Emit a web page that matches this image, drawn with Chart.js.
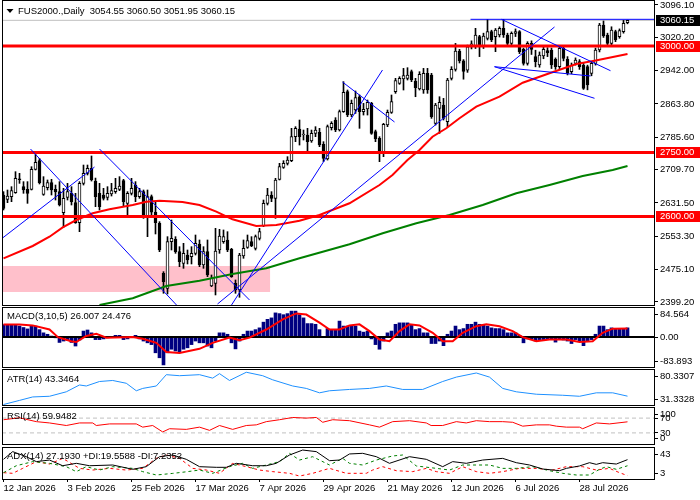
<!DOCTYPE html>
<html>
<head>
<meta charset="utf-8">
<script src="https://cdn.jsdelivr.net/npm/chart.js@4.4.1/dist/chart.umd.min.js"></script>
<style>
html, body { margin: 0; padding: 0; background: #fff; }
#wrap { position: relative; width: 700px; height: 500px; overflow: hidden; background: #fff; }
#wrap canvas { position: absolute; left: 0; }
</style>
</head>
<body>
<div id="wrap">
  <canvas id="cMain" width="700" height="306" style="top:0px"></canvas>
  <canvas id="cMacd" width="700" height="61" style="top:307px"></canvas>
  <canvas id="cAtr" width="700" height="37" style="top:369px"></canvas>
  <canvas id="cRsi" width="700" height="38" style="top:407px"></canvas>
  <canvas id="cAdx" width="700" height="53" style="top:447px"></canvas>
</div>
<script>
// ---- texts ----
const symbolTitle = 'FUS2000.,Daily  3054.55 3060.50 3051.95 3060.15';
const macdTitle = 'MACD(3,10,5) 26.007 24.476';
const atrTitle = 'ATR(14) 43.3464';
const rsiTitle = 'RSI(14) 59.9482';
const adxTitle = 'ADX(14) 27.1930 +DI:19.5588 -DI:7.2352';

// x axis: one tick every 16 daily bars
const dateLabels = ['12 Jan 2026', '3 Feb 2026', '25 Feb 2026', '17 Mar 2026', '7 Apr 2026',
  '29 Apr 2026', '21 May 2026', '12 Jun 2026', '6 Jul 2026', '28 Jul 2026'];
const dateTickBars = [0, 16, 32, 48, 64, 80, 96, 112, 128, 144];

// ---- daily candles ----
const opens = [
  2650.3, 2640.1, 2646.3, 2655.7, 2687.0, 2669.8, 2663.6, 2663.6, 2710.5, 2730.8,
  2651.8, 2667.5, 2679.2, 2663.6, 2658.1, 2608.8, 2644.8, 2654.2, 2632.3, 2585.3,
  2677.6, 2701.1, 2712.8, 2683.0, 2654.2, 2650.3, 2644.8, 2652.6, 2658.1, 2663.6,
  2683.9, 2630.7, 2654.2, 2673.7, 2646.3, 2658.1, 2599.4, 2646.3, 2610.0, 2583.8,
  2466.5, 2431.3, 2540.8, 2546.2, 2517.3, 2489.9, 2509.5, 2505.6, 2513.4, 2535.3,
  2486.0, 2517.3, 2436.8, 2443.0, 2521.2, 2540.8, 2544.7, 2522.8, 2443.0, 2427.4,
  2507.2, 2527.5, 2540.8, 2525.1, 2548.6, 2577.5, 2630.7, 2650.3, 2642.4, 2687.0,
  2715.2, 2724.6, 2730.8, 2787.1, 2805.1, 2791.0, 2791.0, 2777.0, 2794.9, 2797.3,
  2769.1, 2734.7, 2808.2, 2826.2, 2802.7, 2845.8, 2892.7, 2837.9, 2849.7, 2880.9,
  2845.8, 2852.0, 2865.3, 2798.8, 2783.2, 2750.3, 2814.5, 2844.2, 2892.7, 2912.2,
  2922.4, 2924.0, 2939.6, 2917.7, 2899.0, 2896.6, 2935.7, 2931.8, 2818.4, 2853.6,
  2861.4, 2822.3, 2924.1, 2945.0, 2988.0, 2965.0, 2943.0, 2998.0, 2998.4, 3021.8,
  2998.4, 3017.9, 3033.6, 3021.8, 3025.7, 3041.4, 3025.7, 3006.2, 3029.6, 3033.6,
  2992.1, 2959.3, 3006.2, 2974.9, 2955.3, 2976.5, 2989.0, 2990.5, 2968.6, 2951.4,
  2994.4, 2968.6, 2939.7, 2959.3, 2963.2, 2955.3, 2951.4, 2935.8, 2959.3, 2990.5,
  3049.2, 3025.7, 3006.2, 3033.6, 3021.8, 3033.6, 3054.55
];
const highs = [
  2658.1, 2662.0, 2669.8, 2705.0, 2701.1, 2681.6, 2681.6, 2716.7, 2749.6, 2736.3,
  2693.3, 2685.5, 2687.0, 2673.7, 2681.6, 2665.9, 2677.6, 2669.8, 2654.2, 2681.6,
  2720.6, 2720.6, 2741.8, 2690.0, 2677.6, 2665.9, 2669.8, 2677.6, 2689.4, 2693.3,
  2687.0, 2658.1, 2689.4, 2681.6, 2665.9, 2662.0, 2662.0, 2650.3, 2634.6, 2587.7,
  2470.4, 2552.5, 2591.6, 2552.5, 2529.0, 2536.9, 2521.2, 2529.0, 2556.4, 2544.7,
  2529.0, 2544.7, 2462.6, 2572.0, 2569.7, 2568.2, 2564.2, 2525.1, 2450.9, 2513.4,
  2544.7, 2556.4, 2552.5, 2556.4, 2572.0, 2638.5, 2665.9, 2658.1, 2689.4, 2724.6,
  2730.8, 2740.2, 2806.7, 2810.6, 2826.2, 2802.7, 2806.7, 2802.7, 2810.6, 2806.7,
  2775.4, 2814.5, 2822.3, 2831.7, 2849.7, 2916.2, 2896.6, 2873.1, 2894.3, 2884.9,
  2865.3, 2873.1, 2867.7, 2802.7, 2787.1, 2818.4, 2849.7, 2884.9, 2924.0, 2927.9,
  2947.4, 2949.0, 2943.5, 2924.0, 2939.6, 2947.4, 2947.4, 2935.7, 2865.3, 2880.9,
  2877.0, 2924.0, 2951.4, 3006.0, 2992.0, 2968.0, 3002.0, 3012.0, 3041.4, 3025.0,
  3030.0, 3062.5, 3037.0, 3041.0, 3045.0, 3062.5, 3030.0, 3033.0, 3040.0, 3036.0,
  2995.0, 3010.0, 3012.0, 2990.0, 2986.0, 2998.0, 2996.0, 2995.0, 2972.0, 2998.0,
  2998.0, 2975.0, 2960.0, 2972.0, 2968.0, 2960.0, 2955.0, 2963.0, 2995.0, 3053.0,
  3058.6, 3030.0, 3045.0, 3037.0, 3040.0, 3060.0, 3060.50
];
const lows = [
  2615.1, 2632.3, 2634.6, 2654.2, 2677.6, 2654.2, 2630.7, 2662.0, 2708.9, 2676.1,
  2649.5, 2662.0, 2650.3, 2638.5, 2624.5, 2574.4, 2638.5, 2626.8, 2583.8, 2564.2,
  2673.7, 2697.2, 2683.0, 2622.9, 2615.1, 2638.5, 2638.5, 2647.9, 2654.2, 2660.4,
  2622.9, 2603.3, 2650.3, 2634.6, 2642.4, 2595.5, 2552.5, 2600.0, 2558.8, 2517.3,
  2419.6, 2418.0, 2521.2, 2513.4, 2482.1, 2478.2, 2488.4, 2488.4, 2509.5, 2482.1,
  2478.2, 2458.7, 2435.2, 2415.7, 2513.4, 2536.9, 2517.3, 2457.1, 2419.6, 2410.2,
  2501.7, 2525.1, 2529.0, 2521.2, 2544.7, 2576.0, 2626.8, 2634.6, 2595.5, 2685.5,
  2712.8, 2720.6, 2728.4, 2775.4, 2767.5, 2779.3, 2748.0, 2773.8, 2787.1, 2763.6,
  2728.4, 2732.3, 2802.7, 2798.8, 2800.4, 2844.2, 2834.0, 2834.0, 2841.8, 2806.7,
  2837.9, 2837.9, 2792.6, 2775.4, 2728.4, 2740.2, 2810.6, 2841.8, 2888.8, 2909.9,
  2896.6, 2920.1, 2916.2, 2880.9, 2896.6, 2888.8, 2888.8, 2830.1, 2814.5, 2794.9,
  2826.2, 2810.6, 2920.1, 2941.0, 2960.0, 2922.0, 2938.0, 2993.0, 2994.0, 2975.0,
  2994.0, 3014.0, 3010.0, 2986.6, 3021.0, 3020.0, 3000.0, 3000.0, 3022.0, 2982.0,
  2955.0, 2955.0, 2980.0, 2951.0, 2950.0, 2970.0, 2975.0, 2947.0, 2945.0, 2947.0,
  2965.0, 2932.0, 2935.0, 2955.0, 2945.0, 2898.0, 2897.0, 2930.0, 2955.0, 2986.0,
  3020.0, 3002.0, 3002.0, 3010.0, 3018.0, 3030.0, 3051.95
];
const closes = [
  2619.0, 2647.9, 2660.4, 2689.4, 2686.0, 2662.0, 2654.2, 2710.5, 2726.9, 2679.2,
  2671.4, 2679.2, 2662.0, 2657.3, 2626.8, 2642.4, 2658.1, 2634.6, 2585.3, 2677.6,
  2701.1, 2712.8, 2685.5, 2646.3, 2622.9, 2642.4, 2654.2, 2660.4, 2665.9, 2671.4,
  2634.6, 2654.2, 2665.9, 2646.3, 2658.1, 2599.4, 2646.3, 2610.0, 2585.3, 2521.2,
  2446.9, 2540.8, 2548.6, 2517.3, 2493.9, 2513.4, 2497.8, 2513.4, 2536.9, 2486.0,
  2517.3, 2462.6, 2454.8, 2518.9, 2554.1, 2552.5, 2521.2, 2458.7, 2427.4, 2509.5,
  2525.1, 2543.1, 2530.6, 2552.5, 2564.2, 2630.7, 2650.3, 2642.4, 2685.5, 2716.7,
  2724.6, 2732.4, 2787.1, 2806.7, 2787.1, 2792.6, 2775.4, 2794.9, 2802.7, 2767.5,
  2736.3, 2810.6, 2818.4, 2802.7, 2845.8, 2891.1, 2837.9, 2865.3, 2878.6, 2845.8,
  2851.2, 2867.7, 2794.9, 2781.6, 2751.9, 2816.0, 2844.2, 2869.2, 2918.5, 2924.0,
  2930.2, 2931.8, 2920.1, 2902.1, 2933.4, 2935.7, 2896.6, 2834.0, 2861.4, 2867.7,
  2830.1, 2920.1, 2945.2, 2988.0, 2965.0, 2940.0, 2998.0, 3005.0, 3025.7, 2998.4,
  3023.4, 3033.6, 3014.0, 3037.5, 3041.4, 3025.7, 3006.2, 3029.6, 3033.6, 2986.6,
  2959.3, 3006.2, 2992.1, 2963.2, 2978.8, 2992.1, 2984.3, 2955.3, 2951.4, 2994.4,
  2971.0, 2935.8, 2955.3, 2967.1, 2951.4, 2900.6, 2908.4, 2959.3, 2990.5, 3049.2,
  3023.4, 3006.2, 3037.5, 3014.0, 3035.9, 3053.1, 3060.15
];

// moving averages, [bar, price] points
const maFast = [[0, 2501.7], [7.3, 2530.6], [11.5, 2552.4], [14.8, 2574.4], [18.2, 2591.6], [22.3, 2607.3],
  [26.5, 2616.7], [32.3, 2626.8], [35.7, 2634.5], [39, 2636.9], [44.75, 2633.8], [49, 2626.8], [53.2, 2611.1],
  [57.25, 2593.2], [63.2, 2577.5], [68.2, 2579.9], [74, 2589.9], [79, 2603.3], [86.5, 2630.8], [94, 2673.7],
  [97.25, 2697.2], [101, 2732.4], [104, 2755.9], [107.25, 2787.1], [110.7, 2806.8], [114, 2830.3],
  [118.2, 2857.5], [124, 2880.9], [129.8, 2913.8], [136.5, 2935.8], [143.2, 2957.7], [147.75, 2965.4], [156, 2981.0]];
const maSlow = [[24, 2392.1], [32.3, 2407.9], [40.7, 2436.7], [49, 2449.2], [57.25, 2464.9], [65.7, 2478.3],
  [74, 2501.7], [86.5, 2534.6], [94.8, 2560.4], [103.2, 2583.8], [111.5, 2603.3], [119.8, 2626.8],
  [128.2, 2654.2], [136.5, 2673.7], [144.8, 2694.8], [152.3, 2708.9], [156, 2718.3]];

// drawn objects
const levels = [3000, 2750, 2600];
const bidPrice = 3060.15;
const zoneBars = [-1, 66.7];
const zonePrices = [2422.7, 2483.7];
const trendLines = [ // [bar1, price1, bar2, price2]
  [6.75, 2758.2, 43.25, 2392.1],
  [24, 2758.2, 61.5, 2403.9],
  [57, 2392.1, 94.75, 2943.6],
  [53.5, 2394.5, 137.75, 3044.5],
  [-0.25, 2549.3, 22.75, 2715.9],
  [84.75, 2915.4, 97.75, 2821.6],
  [124.5, 3062.5, 151.75, 2941.9],
  [122.75, 2951.3, 147.75, 2877.2],
  [122.75, 2951.3, 146.75, 2929.5],
  [116.75, 3062.5, 164, 3062.5]
];
const priceTicks = [3096.10, 3020.20, 2942.00, 2863.80, 2785.60, 2709.70, 2631.50, 2553.30, 2475.10, 2399.20];
const priceRange = [2392.15, 3107.83];

// ---- MACD ----
const macdHist = [
  35, 35, 34, 34, 31, 27, 23, 33, 31, 21,
  12, 8, 3, -2, -15, -11, -9, -15, -25, -8,
  17, 20, 12, -7, -7, -5, -2, -1, 5, 5,
  -7, -5, 1, 5, -5, -11, -16, -21, -44, -58,
  -78, -44, -34, -39, -44, -34, -30, -21, -11, -16,
  -16, -25, -30, -11, 12, 12, 8, -16, -33, -11,
  8, 17, 17, 21, 26, 42, 50, 54, 68, 66,
  63, 66, 73, 73, 63, 54, 38, 38, 36, 21,
  2, 24, 21, 21, 45, 31, 31, 31, 31, 17,
  14, 17, -5, -21, -34, -11, 12, 17, 36, 40,
  40, 40, 33, 21, 24, 12, 12, -18, -18, -11,
  -24, 8, 17, 31, 21, 24, 36, 36, 42, 36,
  36, 31, 26, 24, 24, 21, 12, 12, 12, 5,
  -16, -5, -5, -11, -7, -7, -7, -7, -14, -5,
  -8, -11, -18, -7, -11, -24, -11, -7, 8, 31,
  31, 21, 26, 24, 24, 24, 26.007
];
const macdSignal = [[0, 35.6], [4, 35.6], [7.3, 32.9], [11.5, 21.4], [13.6, 0], [16.9, -11.5], [18.2, -13.8],
  [20.7, 3.1], [23.2, 9.2], [25.7, -1.5], [32.3, 0], [34.8, -4.6], [38.2, -16], [40.7, -42], [44, -44.3],
  [49, -32.9], [52.3, -16], [56.5, -1.5], [59, -8.4], [61.5, -1.5], [65.7, 21.4], [69.8, 49.7], [73.2, 66.5],
  [75.7, 63.4], [79, 40.5], [81.5, 21.4], [84, 21.4], [86.5, 32.9], [89, 35.9], [91.5, 16.8], [94, -6.9],
  [96.5, -11.5], [99, 16.8], [101.5, 35.9], [104, 32.9], [107.3, 12.2], [109.8, -11.5], [112.3, -11.5],
  [114.8, 12.2], [118.2, 30.6], [120.7, 35.9], [124, 30.6], [127.3, 16.8], [129.8, 0], [133.2, -11.5],
  [136.5, -6.9], [140.7, -6.9], [144, -13.8], [147.3, -11.5], [149.8, 12.2], [152.3, 23.7], [156, 24.476]];
const macdRange = [-83.893, 84.564];
const macdTickText = ['84.564', '0.00', '-83.893'];

// ---- ATR ----
const atrLine = [[0, 32.0], [4, 37.6], [7.3, 42.3], [11.5, 43.2], [15.7, 49.3], [19, 58.6], [20.7, 57.2],
  [24, 63.3], [27.3, 64.7], [30.7, 60.9], [33.2, 50.7], [34.8, 53.9], [38.2, 57.2], [40.7, 72.6], [44, 71.2],
  [49, 72.6], [52.3, 67.9], [54, 74.0], [56.5, 64.7], [60.7, 75.9], [64.8, 71.2], [67.3, 65.6], [72.3, 57.2],
  [75.7, 53.9], [79, 47.9], [81.5, 50.7], [86.5, 52.5], [91.5, 53.9], [95.7, 57.2], [99.8, 52.5],
  [104.8, 52.5], [109.8, 63.3], [113.2, 69.3], [118.2, 74.9], [121.5, 69.3], [124.8, 53.9], [128.2, 49.3],
  [133.2, 46.0], [139.8, 44.6], [144, 43.2], [148.2, 47.9], [152.3, 47.9], [156, 43.35]];
const atrRange = [31.3328, 80.3307];
const atrTickText = ['80.3307', '31.3328'];

// ---- RSI ----
const rsiLine = [[0, 65.6], [4, 70.8], [8.2, 60.4], [11.5, 56.9], [15.7, 50.0], [19, 56.9], [22.3, 56.9],
  [23.2, 50.0], [26.5, 54.3], [33.2, 54.3], [34.8, 45.6], [37.3, 50.0], [39.8, 32.6], [41.5, 41.3],
  [45.7, 39.5], [49, 45.6], [51.5, 36.9], [54, 50.0], [57.3, 39.5], [60.7, 50.0], [63.2, 51.7], [65.7, 60.4],
  [69, 65.6], [72.3, 71.7], [75.7, 70.0], [78.2, 71.7], [79.8, 58.7], [82.3, 65.6], [86.5, 63.0],
  [91.5, 51.7], [94, 45.6], [97.3, 60.4], [101.5, 63.0], [105.7, 56.9], [106.9, 50.0], [109.8, 50.0],
  [113.2, 60.4], [115.7, 56.9], [118.2, 63.0], [121.5, 60.4], [124.8, 60.4], [127.3, 58.7], [129.8, 48.2],
  [133.2, 51.7], [136.5, 51.7], [138.2, 48.2], [140.7, 45.6], [144, 45.6], [144.8, 41.3], [148.2, 56.9],
  [151.5, 54.3], [156, 59.95]];
const rsiLevels = [70, 30];
const rsiTickText = ['100', '70', '30', '0'];

// ---- ADX ----
const adxLine = [[0, 27.6], [2.3, 37.2], [5.7, 30.9], [8.2, 24.7], [11.5, 26.7], [14.8, 19.6], [18.2, 22.6],
  [21.5, 19.6], [27.3, 20.5], [32.3, 15.1], [35.7, 18.4], [39, 30.9], [42.3, 33.0], [45.7, 27.6], [49, 18.4],
  [53.2, 17.6], [55.7, 17.6], [58.2, 22.6], [62.3, 19.6], [65.7, 19.6], [68.2, 22.6], [71.5, 33.0],
  [74.8, 39.2], [78.2, 37.2], [81.5, 25.9], [84, 26.7], [86.5, 34.3], [89.8, 35.1], [93.2, 30.9],
  [96.5, 22.6], [101.5, 30.9], [105.7, 27.6], [109.8, 18.4], [112.3, 24.7], [115.7, 22.6], [119.8, 26.7],
  [124.8, 28.8], [128.2, 23.4], [131.5, 20.5], [134.8, 15.5], [139, 13.4], [140.7, 16.3], [144, 19.3],
  [146.5, 23.4], [148.2, 21.3], [149.8, 23.4], [153.2, 21.7], [156, 27.19]];
const plusDI = [[0, 10.9], [3.2, 19.6], [7.3, 24.7], [11.5, 22.6], [15.7, 18.4], [18.2, 12.2], [20.7, 18.4],
  [24, 14.2], [27.3, 18.4], [32.3, 16.3], [34.8, 12.2], [38.2, 8.0], [42.3, 10.0], [45.7, 12.0], [49, 14.2],
  [52.3, 10.1], [56.5, 18.4], [59.8, 22.6], [62.3, 16.3], [65.7, 20.5], [69, 24.7], [71.5, 35.1], [74, 26.7],
  [77.3, 30.9], [81.5, 20.5], [84.8, 28.8], [86.5, 22.6], [89.8, 20.5], [93.2, 26.7], [97.3, 31.8],
  [99.8, 33.0], [103.2, 19.3], [108.2, 16.3], [111.5, 14.2], [114.8, 20.5], [118.2, 20.5], [121.5, 20.5],
  [124.8, 16.3], [128.2, 16.3], [132.3, 18.4], [136.5, 13.4], [139.8, 10.1], [143.2, 8.0], [146.5, 8.0],
  [149, 15.1], [150.7, 18.4], [153.2, 15.1], [156, 19.56]];
const minusDI = [[0, 10.9], [2.3, 10.1], [4.8, 16.3], [8.2, 24.7], [11.5, 21.7], [14.8, 28.8], [19, 16.3],
  [22.3, 14.2], [26.5, 16.3], [30.7, 14.2], [34.8, 16.3], [38.2, 28.8], [40.7, 33.0], [44, 28.8], [47.3, 16.3],
  [50.7, 14.2], [54, 10.1], [57.3, 22.6], [60.7, 18.4], [64, 14.2], [67.3, 12.2], [71.5, 10.1], [74, 6.7],
  [77.3, 10.1], [81.5, 16.3], [85.7, 10.1], [90.7, 10.1], [92.3, 14.2], [94.8, 18.4], [98.2, 13.4],
  [102.3, 12.2], [105.7, 16.3], [108.2, 12.2], [111.5, 10.1], [114.8, 18.4], [118.2, 12.2], [121.5, 10.1],
  [124.8, 12.2], [129, 16.3], [133.2, 16.3], [137.3, 14.2], [140.7, 18.4], [144.8, 18.4], [148.2, 14.2],
  [151.5, 16.3], [154, 10.9], [156, 7.24]];
const adxRange = [3, 43];
const adxTickText = ['43', '3'];

// ---- chart setup ----
const FONT = "'Liberation Sans', Arial, sans-serif";
const FONT_SIZE = 9.5;
Chart.defaults.font.family = FONT;
Chart.defaults.font.size = FONT_SIZE;
Chart.defaults.color = '#000';
Chart.defaults.animation = false;

const X_MIN = -0.375, X_MAX = 162.625;   // 4px per bar, empty shift at the right
const AXIS_W = 46;

const toXY = pts => pts.map(p => ({ x: p[0], y: p[1] }));
const flat = v => [{ x: X_MIN, y: v }, { x: X_MAX, y: v }];

function lineDs(data, color, width, extra) {
    return Object.assign({
        type: 'line', data, borderColor: color, borderWidth: width,
        pointRadius: 0, tension: 0, fill: false, clip: 0
    }, extra || {});
}

function xScale(show) {
    return {
        type: 'linear', min: X_MIN, max: X_MAX, offset: false, display: show,
        afterBuildTicks: s => { s.ticks = dateTickBars.map(v => ({ value: v })); },
        afterFit: s => { s.height = show ? 21 : 0; s.paddingLeft = 0; s.paddingRight = 0; },
        grid: { offset: false, drawOnChartArea: false, drawTicks: true, tickLength: 3, color: '#000' },
        border: { display: false },
        ticks: {
            autoSkip: false, maxRotation: 0, minRotation: 0, align: 'start', padding: 1, color: '#000',
            callback: (v, i) => dateLabels[i]
        }
    };
}

function yScale(min, max, values, texts) {
    return {
        type: 'linear', position: 'right', min, max,
        afterBuildTicks: s => { s.ticks = values.map(v => ({ value: v })); },
        afterFit: s => { s.width = AXIS_W; s.paddingTop = 0; s.paddingBottom = 0; },
        grid: { drawOnChartArea: false, drawTicks: true, tickLength: 4, color: '#000' },
        border: { display: false },
        ticks: { autoSkip: false, padding: 2, color: '#000', callback: (v, i) => texts[i] }
    };
}

// window max / min labels sit just inside the panel edges, like the terminal draws them
function edgeTicks(range, h, mids) {
    const step = (range[1] - range[0]) / h;
    return [range[1] - step * 7.5, ...mids, range[0] + step * 5.5];
}

// black frame round every panel, plus its caption
Chart.register({
    id: 'frame',
    afterDraw(chart, args, opts) {
        const { ctx, chartArea: a } = chart;
        ctx.save();
        ctx.strokeStyle = '#000';
        ctx.lineWidth = 1;
        ctx.strokeRect(a.left + 0.5, a.top + 0.5, a.right - a.left, a.bottom - a.top);
        if (opts.title) {
            ctx.fillStyle = '#000';
            ctx.font = FONT_SIZE + 'px ' + FONT;
            ctx.textBaseline = 'middle';
            ctx.textAlign = 'left';
            ctx.fillText(opts.title, opts.x, opts.y);
        }
        ctx.restore();
    }
});

function baseOptions(x, y, padBottom, frame) {
    return {
        responsive: false,
        animation: false,
        events: [],
        layout: { padding: { left: 2, right: 0, top: 0, bottom: padBottom } },
        plugins: { legend: { display: false }, tooltip: { enabled: false }, frame },
        scales: { x, y }
    };
}

// price tags on the right axis
const priceTags = {
    id: 'priceTags',
    afterDraw(chart) {
        const { ctx } = chart;
        const y = chart.scales.y;
        ctx.save();
        ctx.font = FONT_SIZE + 'px ' + FONT;
        ctx.textBaseline = 'middle';
        ctx.textAlign = 'left';
        const tag = (v, bg) => {
            const py = Math.round(y.getPixelForValue(v));
            ctx.fillStyle = bg;
            ctx.fillRect(656, py - 5, 44, 11);
            ctx.fillStyle = '#fff';
            ctx.fillText(v.toFixed(2), 660, py + 0.5);
        };
        levels.forEach(v => tag(v, '#ff0000'));
        tag(bidPrice, '#000000');
        // little drop-down arrow before the symbol caption
        ctx.fillStyle = '#000';
        ctx.beginPath();
        ctx.moveTo(6.5, 9);
        ctx.lineTo(13.5, 9);
        ctx.lineTo(10, 13);
        ctx.closePath();
        ctx.fill();
        ctx.restore();
    }
};

// ---- main price panel ----
const bodyColors = opens.map((o, i) => closes[i] >= o ? '#ffffff' : '#000000');

new Chart(document.getElementById('cMain'), {
    type: 'bar',
    data: {
        datasets: [
            lineDs([{ x: zoneBars[0], y: zonePrices[1] }, { x: zoneBars[1], y: zonePrices[1] }], 'rgba(0,0,0,0)', 0,
                { fill: { value: zonePrices[0] }, backgroundColor: '#ffc0cb', order: 9 }),
            lineDs(flat(bidPrice), '#c0c0c0', 1, { order: 8 }),
            {
                type: 'bar', data: opens.map((o, i) => ({ x: i, y: [lows[i], highs[i]] })),
                backgroundColor: '#000', borderWidth: 0, barThickness: 1, grouped: false, order: 7
            },
            {
                type: 'bar', data: opens.map((o, i) => ({ x: i, y: [o, closes[i]] })),
                backgroundColor: bodyColors, borderColor: '#000', borderWidth: 1, borderSkipped: false,
                barThickness: 3, minBarLength: 1, grouped: false, order: 6
            },
            lineDs(toXY(maSlow), '#008000', 2, { order: 5 }),
            lineDs(toXY(maFast), '#ff0000', 2, { order: 4 }),
            ...levels.map(v => lineDs(flat(v), '#ff0000', 3, { order: 3 })),
            ...trendLines.map(t => lineDs([{ x: t[0], y: t[1] }, { x: t[2], y: t[3] }], '#0000ff', 1, { order: 2 }))
        ]
    },
    options: baseOptions(xScale(false),
        yScale(priceRange[0], priceRange[1], priceTicks, priceTicks.map(v => v.toFixed(2))),
        1, { title: symbolTitle, x: 18, y: 11 }),
    plugins: [priceTags]
});

// ---- MACD ----
new Chart(document.getElementById('cMacd'), {
    type: 'bar',
    data: {
        datasets: [
            lineDs(toXY(macdSignal), '#ff0000', 2, { order: 0 }),
            lineDs(flat(0), '#000000', 2, { order: 1 }),
            {
                type: 'bar', data: macdHist.map((v, i) => ({ x: i, y: v })),
                backgroundColor: '#000080', borderWidth: 0, barThickness: 3, grouped: false, order: 2
            }
        ]
    },
    options: baseOptions(xScale(false),
        yScale(macdRange[0], macdRange[1], edgeTicks(macdRange, 60, [0]), macdTickText),
        1, { title: macdTitle, x: 7, y: 9.5 })
});

// ---- ATR ----
new Chart(document.getElementById('cAtr'), {
    type: 'line',
    data: { datasets: [lineDs(toXY(atrLine), '#1e90ff', 1)] },
    options: baseOptions(xScale(false),
        yScale(atrRange[0], atrRange[1], edgeTicks(atrRange, 36, []), atrTickText),
        1, { title: atrTitle, x: 7, y: 10 })
});

// ---- RSI ----
new Chart(document.getElementById('cRsi'), {
    type: 'line',
    data: {
        datasets: [
            lineDs(toXY(rsiLine), '#ff0000', 1, { order: 0 }),
            ...rsiLevels.map(v => lineDs(flat(v), '#c0c0c0', 1, { borderDash: [4, 3], order: 1 }))
        ]
    },
    options: baseOptions(xScale(false),
        yScale(0, 100, edgeTicks([0, 100], 37, rsiLevels), rsiTickText),
        1, { title: rsiTitle, x: 7, y: 9.5 })
});

// ---- ADX ----
new Chart(document.getElementById('cAdx'), {
    type: 'line',
    data: {
        datasets: [
            lineDs(toXY(adxLine), '#000000', 1, { order: 0 }),
            lineDs(toXY(plusDI), '#008000', 1, { borderDash: [3, 3], order: 1 }),
            lineDs(toXY(minusDI), '#ff0000', 1, { borderDash: [3, 3], order: 2 })
        ]
    },
    options: baseOptions(xScale(true),
        yScale(adxRange[0], adxRange[1], edgeTicks(adxRange, 32, []), adxTickText),
        0, { title: adxTitle, x: 7, y: 9.5 })
});
</script>
</body>
</html>
